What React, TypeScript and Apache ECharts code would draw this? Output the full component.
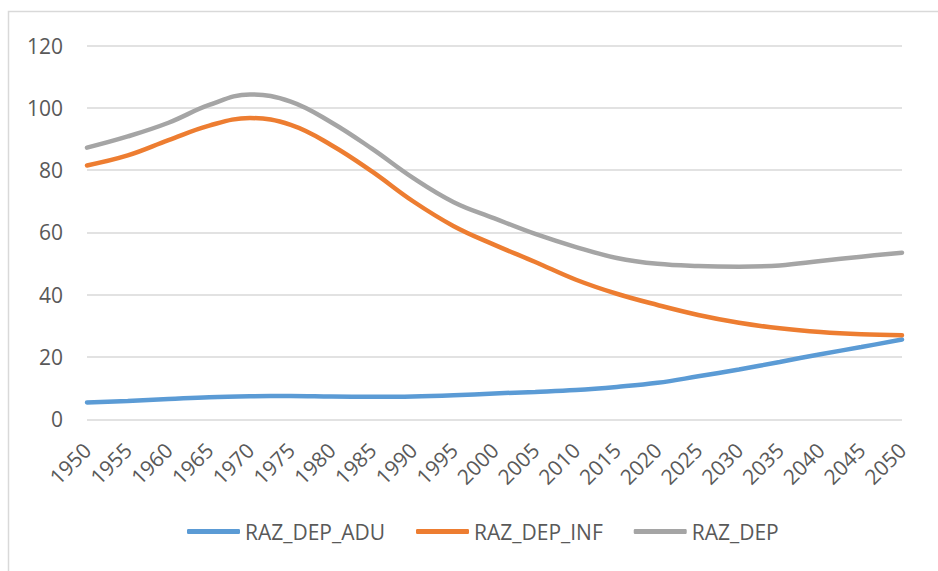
import React, { useEffect, useRef } from "react";
import * as echarts from "echarts";

const years = ["1950","1955","1960","1965","1970","1975","1980","1985","1990","1995","2000","2005","2010","2015","2020","2025","2030","2035","2040","2045","2050"];
const yTicks = { min: 0, max: 120, interval: 20 };
const razDepAdu = [5.4, 5.9, 6.5, 7.1, 7.4, 7.5, 7.3, 7.2, 7.3, 7.7, 8.3, 8.8, 9.4, 10.4, 11.7, 13.8, 16.0, 18.4, 20.9, 23.2, 25.6];
const razDepInf = [81.5, 84.7, 89.6, 94.3, 96.7, 94.5, 88.0, 79.5, 70.0, 62.0, 56.0, 50.5, 44.8, 40.3, 36.7, 33.5, 31.0, 29.2, 28.0, 27.3, 27.0];
const razDep = [87.2, 90.8, 95.2, 100.9, 104.3, 102.0, 95.3, 86.8, 77.5, 69.7, 64.5, 59.5, 55.3, 51.8, 49.9, 49.2, 49.0, 49.4, 50.8, 52.2, 53.5];

const FONT = "'Open Sans', 'Noto Sans', sans-serif";
const TEXT = "#595959";

export default function App() {
  const ref = useRef<HTMLDivElement>(null);
  useEffect(() => {
    document.body.style.margin = "0";
    if (!ref.current) return;
    const chart = echarts.init(ref.current, undefined, { renderer: "svg" });
    const mk = (name: string, data: number[], color: string) => ({
      name,
      type: "line",
      data,
      smooth: 0.4,
      symbol: "none",
      showSymbol: false,
      lineStyle: { color, width: 4.5, cap: "round" },
      itemStyle: { color },
    });
    chart.setOption({
      animation: false,
      backgroundColor: "#ffffff",
      textStyle: { fontFamily: FONT },
      grid: { left: 87, right: 36, top: 45.5, bottom: 151.7 },
      xAxis: {
        type: "category",
        data: years,
        boundaryGap: false,
        axisLine: { show: false },
        axisTick: { show: false },
        axisLabel: { rotate: 45, fontSize: 21, color: TEXT, fontFamily: FONT, margin: 27, interval: 0 },
      },
      yAxis: {
        type: "value",
        min: yTicks.min,
        max: yTicks.max,
        interval: yTicks.interval,
        axisLine: { show: false },
        axisTick: { show: false },
        axisLabel: { fontSize: 21, color: TEXT, fontFamily: FONT, margin: 24 },
        splitLine: { lineStyle: { color: "#D9D9D9", width: 1.5 } },
      },
      legend: {
        left: 182,
        top: 516,
        icon: "roundRect",
        itemWidth: 53,
        itemHeight: 5,
        itemGap: 31,
        textStyle: { fontSize: 21, color: TEXT, fontFamily: FONT },
        data: ["RAZ_DEP_ADU", "RAZ_DEP_INF", "RAZ_DEP"],
      },
      graphic: [
        {
          type: "rect",
          shape: { x: 8.5, y: 11.5, width: 1200, height: 1200 },
          style: { fill: "none", stroke: "#D9D9D9", lineWidth: 1.5 },
          silent: true,
        },
      ],
      series: [
        mk("RAZ_DEP_ADU", razDepAdu, "#5B9BD5"),
        mk("RAZ_DEP_INF", razDepInf, "#ED7D31"),
        mk("RAZ_DEP", razDep, "#A5A5A5"),
      ],
    });
    return () => chart.dispose();
  }, []);
  return <div ref={ref} style={{ position: "fixed", left: 0, top: 0, width: 938, height: 571 }} />;
}
